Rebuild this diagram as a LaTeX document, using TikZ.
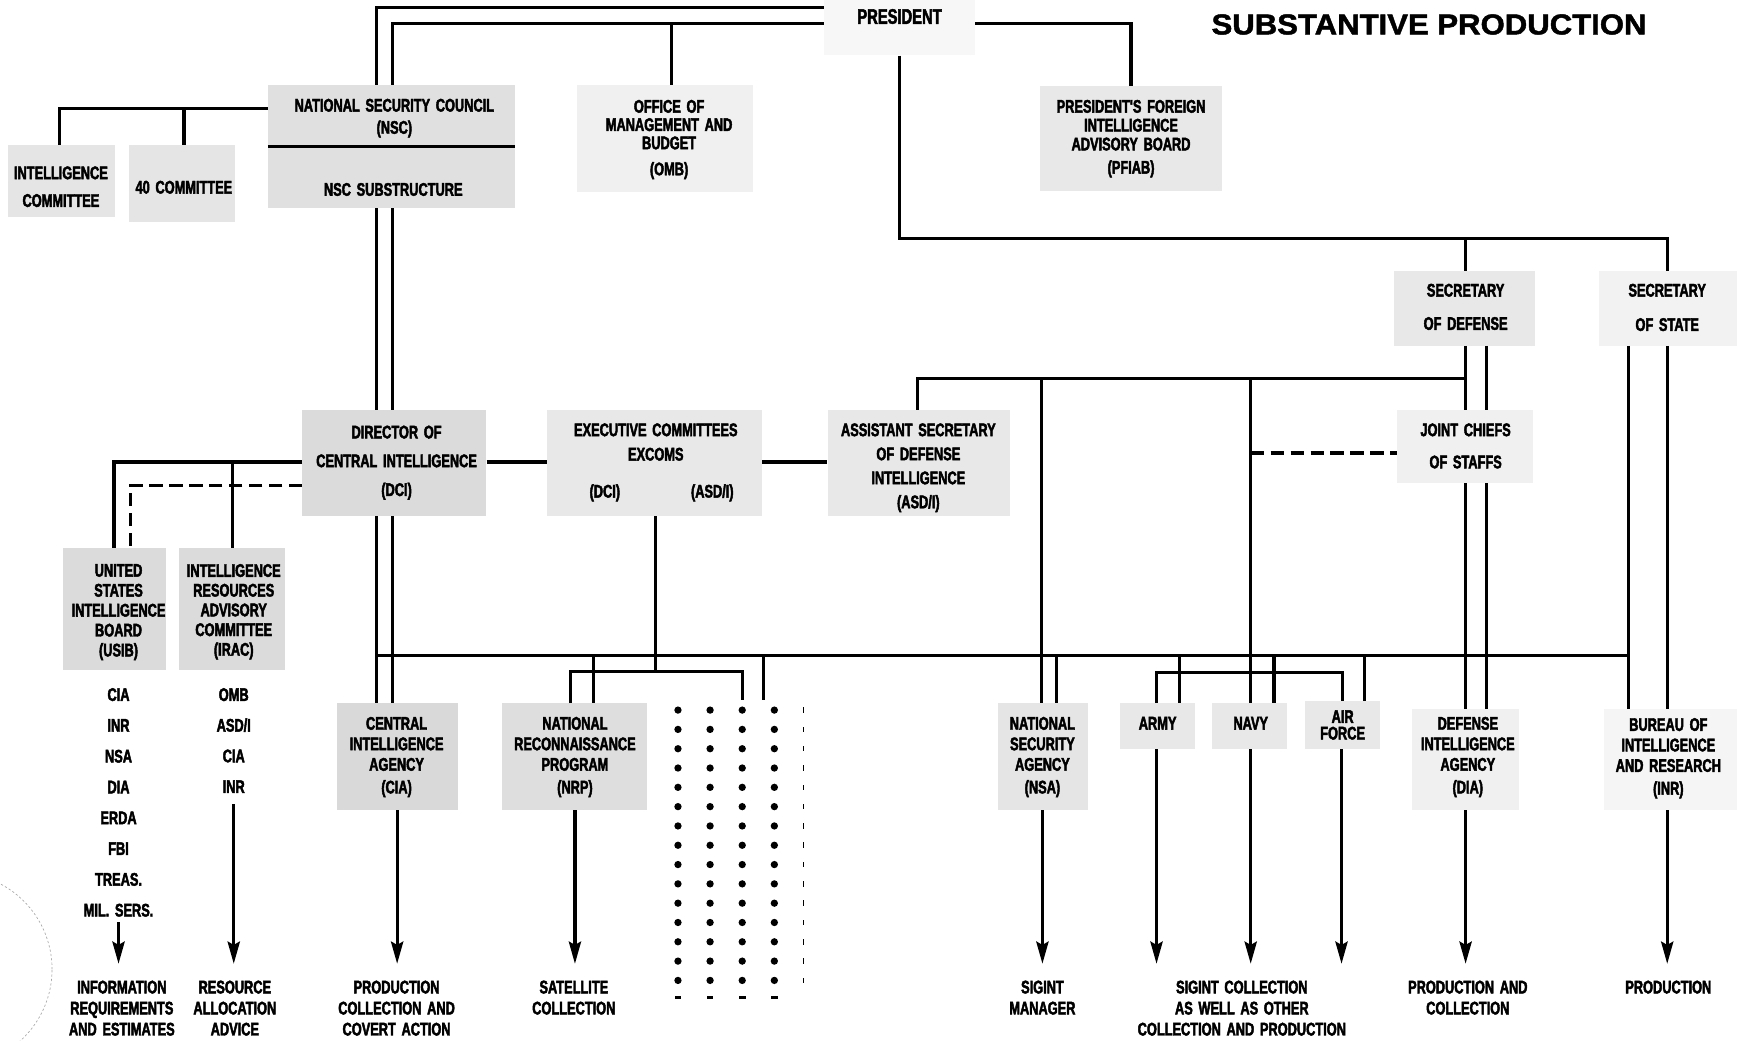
\documentclass[tikz,border=0pt]{standalone}
\usepackage{fontspec}
\newfontfamily\condfont{Liberation Sans}[FakeStretch=0.70, WordSpace=1.6, FakeBold=2.4]
\newfontfamily\titlefont{Liberation Sans}[FakeStretch=1.08, FakeBold=1.6]
\usetikzlibrary{arrows.meta,calc}
\begin{document}
\begin{tikzpicture}[x=1pt,y=-1pt,
  ln/.style={line width=2.9pt, line join=miter},
  dsh/.style={line width=2.9pt, dash pattern=on 12pt off 6pt},
  arr/.style={line width=2.9pt, -{Stealth[length=20pt,width=11pt,inset=3pt]}},
  bx/.style={draw=none, inner sep=0pt, fill=gray!#1},
  txt/.style={font=\condfont\bfseries\fontsize{16.5}{#1}\selectfont, align=center, inner sep=0pt, anchor=north},
  txt/.default=18
]
\useasboundingbox (0,0) rectangle (1568,939);
\clip (0,0) rectangle (1568,939);

% ---------- boxes ----------
\node[bx=6, minimum width=136pt, minimum height=50pt] (pres) at (812,25) {};
\node[bx=24, minimum width=223pt, minimum height=55pt] (nscT) at (353.5,104.5) {};
\node[bx=24, minimum width=223pt, minimum height=56pt] (nscB) at (353.5,160) {};
\node[bx=20, minimum width=97pt, minimum height=65pt] (ic) at (55.5,163.5) {};
\node[bx=20, minimum width=96pt, minimum height=69pt] (c40) at (164,165.5) {};
\node[bx=12, minimum width=159pt, minimum height=96pt] (omb) at (600.5,125) {};
\node[bx=18, minimum width=164pt, minimum height=94pt] (pfiab) at (1021,125) {};
\node[bx=18, minimum width=128pt, minimum height=67pt] (secdef) at (1322,278.5) {};
\node[bx=10, minimum width=125pt, minimum height=67pt] (secstate) at (1505.5,278.5) {};
\node[bx=28, minimum width=166pt, minimum height=96pt] (dci) at (356,418) {};
\node[bx=18, minimum width=194pt, minimum height=96pt] (excom) at (591,418) {};
\node[bx=18, minimum width=165pt, minimum height=96pt] (asdi) at (829.5,418) {};
\node[bx=12, minimum width=123pt, minimum height=66pt] (jcs) at (1322.5,403) {};
\node[bx=28, minimum width=93pt, minimum height=110pt] (usib) at (103.5,550) {};
\node[bx=28, minimum width=95pt, minimum height=110pt] (irac) at (209.5,550) {};
\node[bx=30, minimum width=109pt, minimum height=96pt] (cia) at (358.5,683) {};
\node[bx=26, minimum width=131pt, minimum height=96pt] (nrp) at (518.5,683) {};
\node[bx=20, minimum width=81pt, minimum height=96pt] (nsa) at (941.5,683) {};
\node[bx=18, minimum width=68pt, minimum height=41pt] (army) at (1045,655.5) {};
\node[bx=18, minimum width=68pt, minimum height=41pt] (navy) at (1128,655.5) {};
\node[bx=18, minimum width=68pt, minimum height=43pt] (af) at (1212,654.5) {};
\node[bx=12, minimum width=96pt, minimum height=91pt] (dia) at (1323,685.5) {};
\node[bx=8, minimum width=120pt, minimum height=91pt] (inr) at (1508,685.5) {};

% ---------- texts ----------
\node[font=\titlefont\bfseries\fontsize{26}{30}\selectfont, anchor=north, inner sep=0pt] (title) at (1290,12.7) {SUBSTANTIVE PRODUCTION};
\node[font=\condfont\bfseries\fontsize{19}{20}\selectfont, anchor=north, inner sep=0pt] (tpres) at (812,8) {PRESIDENT};
\node[txt=20] (tnsc) at (356,89) {NATIONAL SECURITY COUNCIL\\(NSC)};
\node[txt] (tnscb) at (355,165) {NSC SUBSTRUCTURE};
\node[txt=25] (tic) at (55,150) {INTELLIGENCE\\COMMITTEE};
\node[txt] (tc40) at (166,163) {40 COMMITTEE};
\node[txt=16.5] (tomb) at (604,90) {OFFICE OF\\MANAGEMENT AND\\BUDGET\\[7pt](OMB)};
\node[txt=17] (tpfiab) at (1021,90) {PRESIDENT'S FOREIGN\\INTELLIGENCE\\ADVISORY BOARD\\[4pt](PFIAB)};
\node[txt=30] (tsecdef) at (1323,256) {SECRETARY\\OF DEFENSE};
\node[txt=31] (tsecstate) at (1505,256) {SECRETARY\\OF STATE};
\node[txt=26] (tdci) at (358,384) {DIRECTOR OF\\CENTRAL INTELLIGENCE\\(DCI)};
\node[txt=22] (texcom) at (592,382) {EXECUTIVE COMMITTEES\\EXCOMS};
\node[txt] (texdci) at (546,437) {(DCI)};
\node[txt] (texasd) at (643,437) {(ASD/I)};
\node[txt=21.7] (tasdi) at (829,382) {ASSISTANT SECRETARY\\OF DEFENSE\\INTELLIGENCE\\(ASD/I)};
\node[txt=29] (tjcs) at (1323,382) {JOINT CHIEFS\\OF STAFFS};
\node[txt=18] (tusib) at (107,509) {UNITED\\STATES\\INTELLIGENCE\\BOARD\\(USIB)};
\node[txt=17.8] (tirac) at (211,509) {INTELLIGENCE\\RESOURCES\\ADVISORY\\COMMITTEE\\(IRAC)};
\node[txt=27.8] (tusiblist) at (107,621) {CIA\\INR\\NSA\\DIA\\ERDA\\FBI\\TREAS.\\MIL. SERS.};
\node[txt=27.7] (tiraclist) at (211,621) {OMB\\ASD/I\\CIA\\INR};
\node[txt=18.5] (tcia) at (358,647) {CENTRAL\\INTELLIGENCE\\AGENCY\\[2pt](CIA)};
\node[txt=18.5] (tnrp) at (519,647) {NATIONAL\\RECONNAISSANCE\\PROGRAM\\[2pt](NRP)};
\node[txt=18.5] (tnsa) at (941,647) {NATIONAL\\SECURITY\\AGENCY\\[2pt](NSA)};
\node[txt] (tarmy) at (1045,647) {ARMY};
\node[txt] (tnavy) at (1129,647) {NAVY};
\node[txt=15] (taf) at (1212,641) {AIR\\FORCE};
\node[txt=18.5] (tdia) at (1325,647) {DEFENSE\\INTELLIGENCE\\AGENCY\\[2pt](DIA)};
\node[txt=18.5] (tinr) at (1506,648) {BUREAU OF\\INTELLIGENCE\\AND RESEARCH\\[2pt](INR)};
\node[txt=19] (binfo) at (110,885) {INFORMATION\\REQUIREMENTS\\AND ESTIMATES};
\node[txt=19] (bres) at (212,885) {RESOURCE\\ALLOCATION\\ADVICE};
\node[txt=19] (bprod) at (358,885) {PRODUCTION\\COLLECTION AND\\COVERT ACTION};
\node[txt=19] (bsat) at (518,885) {SATELLITE\\COLLECTION};
\node[txt=19] (bsig) at (941,885) {SIGINT\\MANAGER};
\node[txt=19] (bsigc) at (1121,885) {SIGINT COLLECTION\\AS WELL AS OTHER\\COLLECTION AND PRODUCTION};
\node[txt=19] (bpc) at (1325,885) {PRODUCTION AND\\COLLECTION};
\node[txt=19] (bp) at (1506,885) {PRODUCTION};

% ---------- junction coordinates ----------
\coordinate (jTop) at (340,7);
\coordinate (jIn) at (354,21.5);
\coordinate (jOmb) at (606,21.5);
\coordinate (jPd) at (812,215);
\coordinate (jDef) at (1323,215);
\coordinate (jNscL) at (53.5,98);
\coordinate (jC40) at (166,98);
\coordinate (jUsib) at (103,417);
\coordinate (jIrac) at (210,417);
\coordinate (jDash) at (118,438);
\coordinate (busL) at (340,592);
\coordinate (busR) at (1470,592);
\coordinate (jEx) at (592,606);
\coordinate (jExL) at (515,606);
\coordinate (jExR) at (670,606);
\coordinate (d3) at (670,632);
\coordinate (d4) at (689,632);
\coordinate (jAsd) at (828,342);
\coordinate (jDef342) at (1323,342);
\coordinate (jNsa) at (940,342);
\coordinate (jNavy) at (1129,342);
\coordinate (jNavyD) at (1129,409);
\coordinate (jSecL) at (1044,607);
\coordinate (jSecR) at (1212,607);

% ---------- connectors ----------
\draw[ln] (pres.west |- jTop) -- (jTop) -- (nscT.north -| jTop);
\draw[ln] (pres.west |- jIn) -- (jIn) -- (nscT.north -| jIn);
\draw[ln] (jOmb) -- (omb.north -| jOmb);
\draw[ln] (pres.east |- jIn) -| (pfiab.north);
\draw[ln] (pres.south) -- (jPd) -| (secstate.north -| 1505,0);
\draw[ln] (jDef) -- (secdef.north -| jDef);
\draw[ln] (nscT.south west) -- (nscT.south east);
\draw[ln] (nscT.west |- jNscL) -- (jNscL) -- (ic.north -| jNscL);
\draw[ln] (jC40) -- (c40.north -| jC40);
\draw[ln] (nscB.south -| jTop) -- (dci.north -| jTop);
\draw[ln] (nscB.south -| jIn) -- (dci.north -| jIn);
\draw[ln] (dci.south -| jTop) -- (cia.north -| jTop);
\draw[ln] (dci.south -| jIn) -- (cia.north -| jIn);
\draw[ln] (busL) -- (busR);
\draw[ln] (dci.west |- jUsib) -- (jUsib) -- (usib.north -| jUsib);
\draw[ln] (jIrac) -- (irac.north -| jIrac);
\draw[dsh] (dci.west |- jDash) -- (jDash) -- (usib.north -| jDash);
\draw[ln] (dci.east |- jUsib) -- (excom.west |- jUsib);
\draw[ln] (excom.east |- jUsib) -- (asdi.west |- jUsib);
\draw[ln] (excom.south -| jEx) -- (jEx);
\draw[ln] (nrp.north -| jExL) -- (jExL) -- (jExR) -- (d3);
\draw[ln] (536,592) -- (nrp.north -| 536,0);
\draw[ln] (689,592) -- (d4);
\draw[ln] (asdi.north -| jAsd) -- (jAsd) -- (jDef342);
\draw[ln] (secdef.south -| 1323,0) -- (jcs.north -| 1323,0);
\draw[ln] (secdef.south -| 1342,0) -- (jcs.north -| 1342,0);
\draw[ln] (jcs.south -| 1323,0) -- (dia.north -| 1323,0);
\draw[ln] (jcs.south -| 1342,0) -- (dia.north -| 1342,0);
\draw[ln] (jNsa) -- (nsa.north -| jNsa);
\draw[ln] (954,592) -- (nsa.north -| 954,0);
\draw[ln] (jNavy) -- (navy.north -| jNavy);
\draw[dsh] (jNavyD) -- (jcs.west |- jNavyD);
\draw[ln] (army.north -| jSecL) -- (jSecL) -- (jSecR) -- (af.north -| jSecR);
\draw[ln] (1065,592) -- (army.north -| 1065,0);
\draw[ln] (1150,592) -- (navy.north -| 1150,0);
\draw[ln] (1232,592) -- (af.north -| 1232,0);
\draw[ln] (secstate.south -| busR) -- (inr.north -| busR);
\draw[ln] (secstate.south -| 1505,0) -- (inr.north -| 1505,0);

% ---------- arrows ----------
\draw[arr] ([yshift=-5pt]tusiblist.south) -- ([yshift=15pt]binfo.north -| tusiblist.south);
\draw[arr] ([yshift=-10pt]tiraclist.south) -- ([yshift=15pt]bres.north -| tiraclist.south);
\draw[arr] (cia.south) -- ([yshift=15pt]bprod.north -| cia.south);
\draw[arr] (nrp.south -| 519,0) -- ([yshift=15pt]bsat.north -| 519,0);
\draw[arr] (nsa.south -| 941,0) -- ([yshift=15pt]bsig.north -| 941,0);
\draw[arr] (army.south -| jSecL) -- ([yshift=15pt]bsigc.north -| jSecL);
\draw[arr] (navy.south -| jNavy) -- ([yshift=15pt]bsigc.north -| jNavy);
\draw[arr] (af.south -| 1211,0) -- ([yshift=15pt]bsigc.north -| 1211,0);
\draw[arr] (dia.south -| 1323,0) -- ([yshift=15pt]bpc.north -| 1323,0);
\draw[arr] (inr.south -| 1505,0) -- ([yshift=15pt]bp.north -| 1505,0);

% ---------- dotted field ----------
\foreach \x in {612,641,670,699}{
  \foreach \i in {0,...,14}{
    \fill (\x,641+17.43*\i) circle[radius=3.3pt];
  }
  \fill (\x-3,899) rectangle (\x+3,901.5);
}
\foreach \i in {0,...,14}{
  \fill (724.6,638.5+17.43*\i) rectangle (726,643.5+17.43*\i);
}

% ---------- stamp remnant ----------
\draw[gray!70, line width=0.6pt, dash pattern=on 2pt off 2pt] (-40,875) circle[radius=87pt];
\end{tikzpicture}
\end{document}
